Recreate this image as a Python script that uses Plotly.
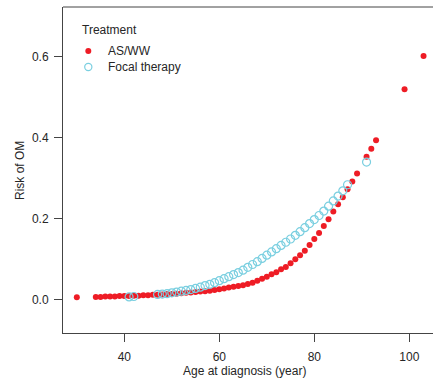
import plotly.graph_objects as go

# AS/WW (filled red dots)
asww_age = [30] + list(range(34, 90)) + [91, 92, 93, 99, 103]
asww_risk = [0.005,
             0.006, 0.006, 0.007, 0.007, 0.007, 0.008, 0.008, 0.008, 0.009, 0.009,
             0.010, 0.010, 0.011, 0.011, 0.012, 0.013, 0.013, 0.014, 0.015, 0.016,
             0.017, 0.018, 0.019, 0.020, 0.021, 0.023, 0.025, 0.027, 0.029, 0.031,
             0.033, 0.035, 0.038, 0.041, 0.046, 0.051, 0.056, 0.062, 0.067, 0.074,
             0.080, 0.089, 0.099, 0.109, 0.120, 0.134, 0.149, 0.164, 0.181, 0.198,
             0.217, 0.235, 0.252, 0.272, 0.291, 0.311,
             0.352, 0.372, 0.393, 0.519, 0.601]

# Focal therapy (open cyan circles)
focal_age = [41, 42] + list(range(47, 88)) + [91]
focal_risk = [0.006, 0.007,
              0.012, 0.013, 0.014, 0.016, 0.018, 0.020, 0.022, 0.024, 0.027, 0.030,
              0.034, 0.037, 0.041, 0.046, 0.051, 0.056, 0.061, 0.066, 0.072, 0.079,
              0.086, 0.093, 0.101, 0.109, 0.117, 0.125, 0.133, 0.141, 0.149, 0.158,
              0.167, 0.177, 0.187, 0.197, 0.207, 0.218, 0.230, 0.243, 0.255, 0.268,
              0.283,
              0.339]

series_names = ["AS/WW", "Focal therapy"]
legend_title = "Treatment"
x_title = "Age at diagnosis (year)"
y_title = "Risk of OM"
x_ticks = [40, 60, 80, 100]
y_ticks = [0.0, 0.2, 0.4, 0.6]
y_tick_text = ["0.0", "0.2", "0.4", "0.6"]

RED = "#EE1C25"
CYAN = "#7ACFE0"
FONT = "Liberation Sans, Arial, sans-serif"
INK = "#262626"
AX = "#444"

W, H = 433, 390
ML, MR, MT, MB = 63, 0, 7, 57
PW, PH = W - ML - MR, H - MT - MB


def px_x(px):
    return (px - ML) / PW


def px_y(py):
    return (H - MB - py) / PH


fig = go.Figure()
fig.add_trace(go.Scatter(
    x=asww_age, y=asww_risk, mode="markers", name=series_names[0],
    marker=dict(symbol="circle", size=6, color=RED, line=dict(width=0)),
    cliponaxis=False,
))
fig.add_trace(go.Scatter(
    x=focal_age, y=focal_risk, mode="markers", name=series_names[1],
    marker=dict(symbol="circle-open", size=8, color=CYAN, line=dict(width=1.2, color=CYAN)),
    cliponaxis=False,
))

axis_common = dict(
    showgrid=False, zeroline=False, showline=True, linecolor=AX, linewidth=1,
    ticks="outside", ticklen=8, tickcolor=AX, tickwidth=1, automargin=False,
    tickfont=dict(family=FONT, size=12, color=INK),
)

annotations = [
    dict(text=x_title, x=px_x(244), y=px_y(371), xref="paper", yref="paper",
         xanchor="center", yanchor="middle", showarrow=False,
         font=dict(family=FONT, size=12, color=INK)),
    dict(text=y_title, x=px_x(20), y=px_y(171), xref="paper", yref="paper",
         xanchor="center", yanchor="middle", showarrow=False, textangle=-90,
         font=dict(family=FONT, size=12, color=INK)),
    dict(text=legend_title, x=px_x(80), y=px_y(30), xref="paper", yref="paper",
         xanchor="left", yanchor="middle", showarrow=False,
         font=dict(family=FONT, size=12, color=INK)),
    dict(text=series_names[0], x=px_x(106), y=px_y(51), xref="paper", yref="paper",
         xanchor="left", yanchor="middle", showarrow=False,
         font=dict(family=FONT, size=12, color=INK)),
    dict(text=series_names[1], x=px_x(106), y=px_y(67), xref="paper", yref="paper",
         xanchor="left", yanchor="middle", showarrow=False,
         font=dict(family=FONT, size=12, color=INK)),
]

shapes = [
    dict(type="line", xref="paper", yref="paper", x0=0, x1=1, y0=1, y1=1,
         line=dict(color=AX, width=1)),
    # legend keys
    dict(type="circle", xref="paper", yref="paper", xsizemode="pixel", ysizemode="pixel",
         xanchor=px_x(88.3), yanchor=px_y(51), x0=-3, x1=3, y0=-3, y1=3,
         fillcolor=RED, line=dict(width=0)),
    dict(type="circle", xref="paper", yref="paper", xsizemode="pixel", ysizemode="pixel",
         xanchor=px_x(88.3), yanchor=px_y(67), x0=-3.6, x1=3.6, y0=-3.6, y1=3.6,
         fillcolor="rgba(0,0,0,0)", line=dict(width=1.2, color=CYAN)),
]

fig.update_layout(
    width=W, height=H,
    margin=dict(l=ML, r=MR, t=MT, b=MB),
    paper_bgcolor="white", plot_bgcolor="white",
    font=dict(family=FONT, size=12, color=INK),
    showlegend=False,
    xaxis=dict(**axis_common, range=[27.09, 104.99], tickvals=x_ticks, ticklabelstandoff=5),
    yaxis=dict(**axis_common, range=[-0.0832, 0.722], tickvals=y_ticks, ticktext=y_tick_text,
               ticklabelstandoff=3),
    annotations=annotations,
    shapes=shapes,
)

fig.write_html(
    "out.html",
    config={"displayModeBar": False},
    post_script="document.body.style.margin='0';document.body.style.overflow='hidden';",
)
